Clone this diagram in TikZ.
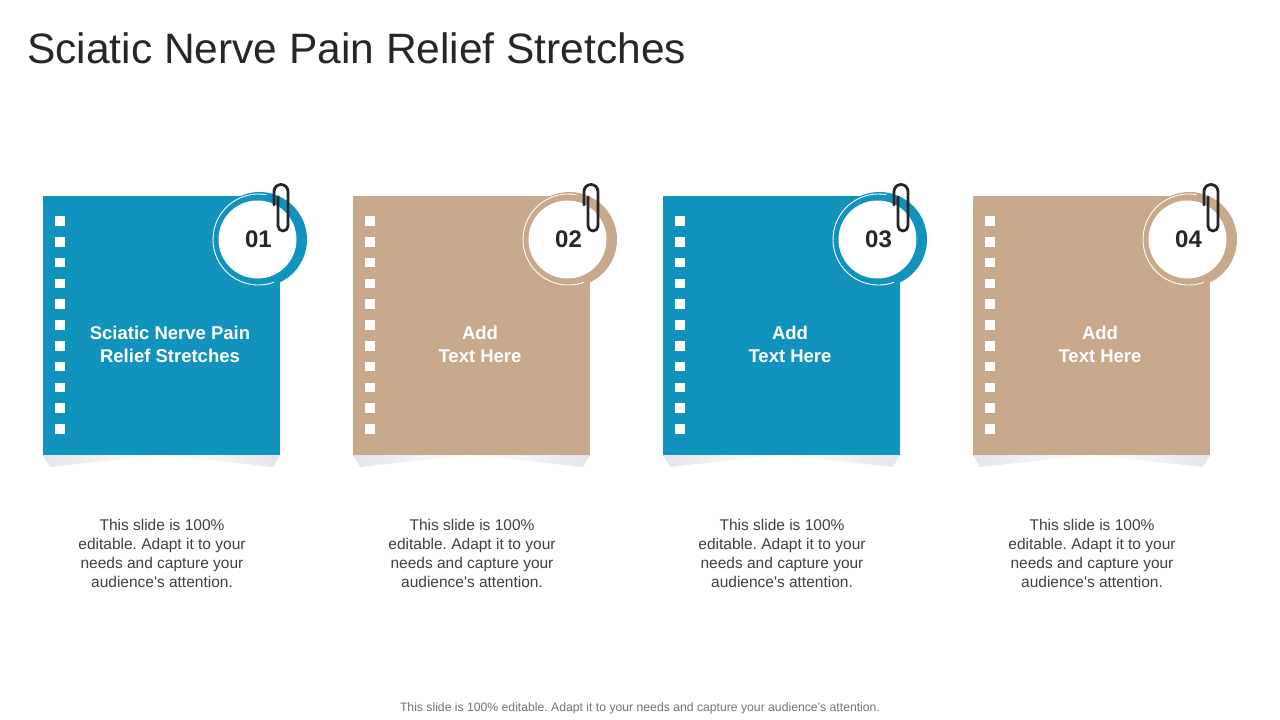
\documentclass[tikz,border=0pt]{standalone}
\usepackage{fontspec}
\setmainfont{Liberation Sans}[Ligatures=TeXOff]
\usepackage{tikz}
\usetikzlibrary{positioning}
\definecolor{cardblue}{RGB}{18,147,190}
\definecolor{cardtan}{RGB}{200,169,140}
\definecolor{inkgray}{RGB}{38,38,38}
\definecolor{bodygray}{RGB}{64,64,64}
\definecolor{footgray}{RGB}{115,115,115}
\definecolor{shadowgray}{RGB}{226,229,234}
\tikzstyle{card} = [minimum width=237bp,minimum height=259bp,inner sep=0pt,outer sep=0pt]
\tikzstyle{hole} = [fill=white,minimum size=9.5bp,inner sep=0pt]
\tikzstyle{clipline} = [draw=inkgray,line width=2.8bp,line cap=round,line join=round]
\tikzstyle{cardtext} = [text=white,align=center,font=\fontsize{18.5bp}{23bp}\selectfont\bfseries]
\tikzstyle{desctext} = [text=bodygray,align=center,font=\fontsize{15.5bp}{19bp}\selectfont]
\tikzstyle{numtext} = [text=inkgray,font=\fontsize{24bp}{26bp}\selectfont\bfseries]

\begin{document}
\frenchspacing
\begin{tikzpicture}[x=1bp,y=-1bp]
			\useasboundingbox (0,0) rectangle (1280,720);
			\node[anchor=west,inner sep=0pt,text=inkgray,font=\fontsize{42.5bp}{46bp}\selectfont] (title) at (27,48) {Sciatic Nerve Pain Relief Stretches};
			
			\foreach \i/\col/\txt in {1/cardblue/{Sciatic Nerve Pain\\Relief Stretches},2/cardtan/{Add\\Text Here},3/cardblue/{Add\\Text Here},4/cardtan/{Add\\Text Here}}{
				\pgfmathsetmacro\xo{310*(\i-1)}
				\shade[left color=shadowgray,right color=white] (\xo+43,455) -- (\xo+161,455) -- (\xo+50,467) -- cycle;
				\shade[left color=white,right color=shadowgray] (\xo+280,455) -- (\xo+162,455) -- (\xo+273,467) -- cycle;
				\node[card,fill=\col] (card\i) at (\xo+161.5,325.5) {};
				\foreach \k in {0,...,10}
					\node[hole] (hole\i-\k) at (\xo+60,221+20.8*\k) {};
				\fill[\col] (\xo+259.5,239.5) circle (47.5);
				\fill[white] (\xo+257.5,239.5) circle (39);
				\draw[white,line width=0.9bp] (\xo+258.5,239.5) ++(-80:45.5) arc(-80:-290:45.5);
				\node[numtext] (num\i) at (\xo+258.5,239) {0\i};
				\draw[clipline] (\xo+274,205) -- (\xo+274,191.5) arc(180:360:7) -- (\xo+288,226) arc(0:180:5) -- (\xo+278,197);
				\node[cardtext] (label\i) at (\xo+170,344.5) {\txt};
				\node[desctext] (desc\i) at (\xo+162,553.5) {This slide is 100\%\\editable. Adapt it to your\\needs and capture your\\audience's attention.};
			}
			
			\node[text=footgray,font=\fontsize{12.2bp}{14bp}\selectfont] (footer) at (640,708) {This slide is 100\% editable. Adapt it to your needs and capture your audience’s attention.};
		\end{tikzpicture}
\end{document}
